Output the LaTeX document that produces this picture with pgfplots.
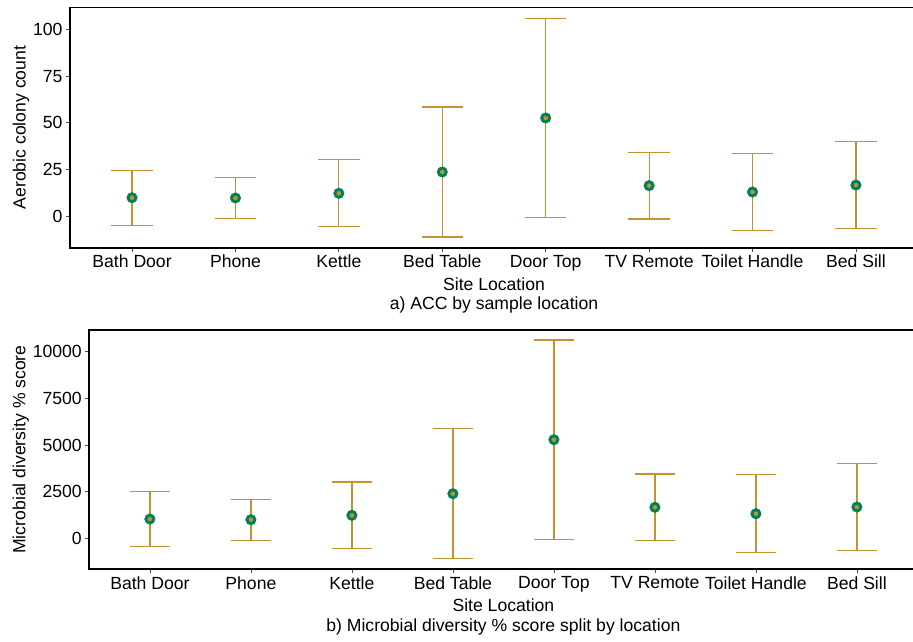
\documentclass[border=0pt]{standalone}
\usepackage{fontspec}
\setmainfont{Liberation Sans}
\usepackage{pgfplots}
\pgfplotsset{compat=1.18}
\definecolor{ptgreen}{RGB}{0,128,90}
\definecolor{errgold}{RGB}{196,146,46}
\newcommand{\cf}{\fontsize{17.6}{21}\selectfont}
\begin{document}
\begin{tikzpicture}
\useasboundingbox (0pt,0pt) rectangle (913pt,641pt);
\pgfplotsset{myax/.style={scale only axis, xmin=0.4, xmax=8.6,
  xtick={1,2,3,4,5,6,7,8},
  xticklabels={Bath Door,Phone,Kettle,Bed Table,Door Top,TV Remote,Toilet Handle,Bed Sill},
  tick pos=left, tick align=outside, major tick length=4pt,
  every tick/.style={black!70, line width=0.8pt},
  axis line style={line width=1.8pt},
  tick label style={font=\cf},
  label style={font=\cf},
  ylabel style={yshift=-3pt},
  /pgf/number format/assume math mode=true,
  /pgf/number format/set thousands separator={},
  xlabel={Site Location}, clip=false},
  dots/.style={only marks, mark=*, mark size=5.3pt, draw=ptgreen, fill=ptgreen,
    mark options={draw=ptgreen, fill=ptgreen, line width=0.4pt}},
  ebar/.style={only marks, mark=none, errgold, error bars/.cd, y dir=both, y explicit,
    error mark=|,
    error bar style={color=errgold, line width=1.2pt},
    error mark options={color=errgold, line width=1.2pt, mark size=#1}}}

\begin{axis}[myax, at={(70pt,393.3pt)}, anchor=south west, width=848pt, height=240.2pt,
  ymin=-16.8, ymax=111.7, ytick={0,25,50,75,100}, ylabel={Aerobic colony count}]
\addplot[dots] coordinates {
 (1,9.95) (2,9.8) (3,12.3) (4,23.7) (5,52.6) (6,16.4) (7,13.0) (8,16.7)};
\addplot[ebar=20.7pt] coordinates {
 (1,9.95) +- (0,14.7)
 (2,9.8) +- (0,11.1)
 (3,12.3) +- (0,17.9)
 (4,23.7) +- (0,34.8)
 (5,52.6) +- (0,53.2)
 (6,16.4) +- (0,17.8)
 (7,13.0) +- (0,20.6)
 (8,16.7) +- (0,23.2)};
\node[font=\cf] at (rel axis cs:0.5,0) [yshift=-57.3pt] {a) ACC by sample location};
\end{axis}

\begin{axis}[myax, at={(89.3pt,72pt)}, anchor=south west, width=828.2pt, height=239pt,
  ymin=-1645, ymax=11163, ytick={0,2500,5000,7500,10000}, ylabel={Microbial diversity \% score},
  scaled y ticks=false]
\addplot[dots] coordinates {
 (1,1034) (2,997) (3,1232) (4,2390) (5,5284) (6,1661) (7,1318) (8,1677)};
\addplot[ebar=20.3pt] coordinates {
 (1,1034) +- (0,1475)
 (2,997) +- (0,1100)
 (3,1232) +- (0,1787)
 (4,2390) +- (0,3490)
 (5,5284) +- (0,5340)
 (6,1661) +- (0,1788)
 (7,1318) +- (0,2082)
 (8,1677) +- (0,2312)};
\node[font=\cf] at (rel axis cs:0.5,0) [yshift=-57.7pt] {b) Microbial diversity \% score split by location};
\end{axis}
\end{tikzpicture}
\end{document}
